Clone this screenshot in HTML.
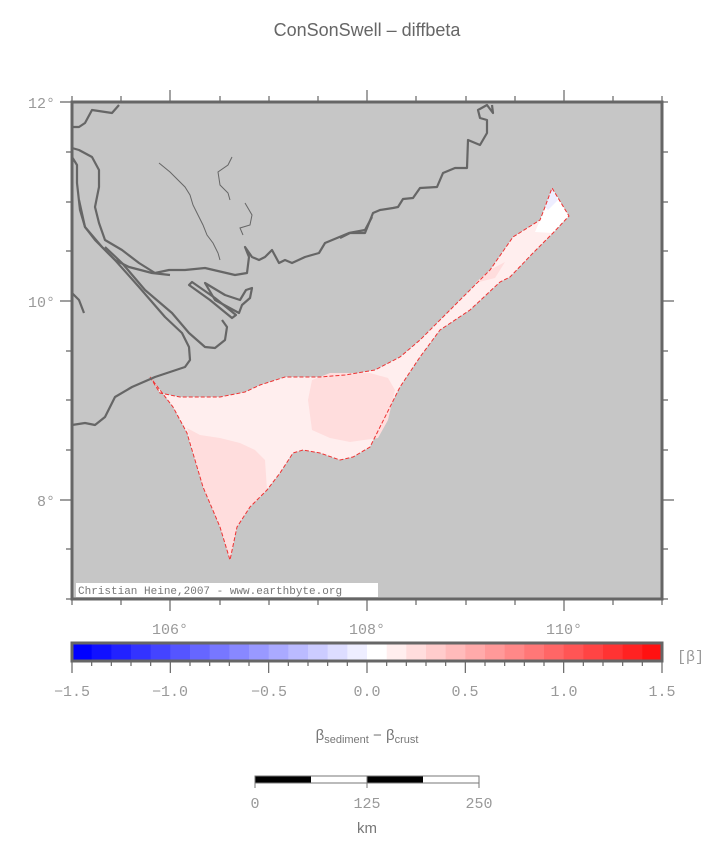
<!DOCTYPE html>
<html><head><meta charset="utf-8"><style>
body{margin:0;background:#fff;}
svg{display:block;}
text{font-family:"Liberation Mono",monospace;fill:#999;}
</style></head><body>
<svg width="720" height="853" viewBox="0 0 720 853" xmlns="http://www.w3.org/2000/svg">
<text x="367" y="36" text-anchor="middle" style="font-family:'Liberation Sans',sans-serif;font-size:18px;fill:#666">ConSonSwell – diffbeta</text>
<rect x="72" y="102" width="590" height="497" fill="#c6c6c6"/>
<path d="M150,377 L160,393 L180,397 L220,397 L245,392 L260,385 L285,377 L320,377 L345,375 L375,370 L400,357 L420,340 L440,320 L458,302 L475,285 L490,270 L513,237 L540,220 L545,207 L552,188 L569,216 L553,233 L533,253 L510,277 L500,282 L470,310 L440,330 L420,357 L400,387 L380,427 L370,447 L353,457 L340,460 L320,453 L303,450 L293,453 L280,473 L267,490 L250,507 L237,527 L230,560 L220,527 L203,487 L187,433 L173,407 Z" fill="#ffeeee"/>
<path d="M312,380 L330,373 L370,373 L388,378 L395,390 L388,420 L378,438 L350,442 L330,438 L312,430 L308,400 Z" fill="#ffdddd"/>
<path d="M187,428 L200,435 L220,438 L240,443 L255,450 L265,460 L267,490 L250,507 L237,527 L230,560 L220,527 L203,487 Z" fill="#ffdddd"/>
<path d="M475,283 L490,270 L505,262 L495,278 Z" fill="#ffdddd"/>
<path d="M540,220 L545,207 L552,188 L569,216 L553,233 L535,232 Z" fill="#ffffff"/>
<path d="M545,207 L552,188 L558,200 L548,210 Z" fill="#eeeeff"/>
<path d="M150,377 L160,393 L180,397 L220,397 L245,392 L260,385 L285,377 L320,377 L345,375 L375,370 L400,357 L420,340 L440,320 L458,302 L475,285 L490,270 L513,237 L540,220 L545,207 L552,188 L569,216 L553,233 L533,253 L510,277 L500,282 L470,310 L440,330 L420,357 L400,387 L380,427 L370,447 L353,457 L340,460 L320,453 L303,450 L293,453 L280,473 L267,490 L250,507 L237,527 L230,560 L220,527 L203,487 L187,433 L173,407 Z" fill="none" stroke="#ee3333" stroke-width="1" stroke-dasharray="4,2"/>
<g fill="none" stroke="#666" stroke-width="2.2" stroke-linejoin="round">
<path d="M372,217 L365,230 L349,233 L325,243 L319,253 L305,257 L292,263 L285,260 L279,263 L272,250 L265,257 L259,260 L252,257 L245,247 L249,257 L247,273 L235,275 L205,268 L185,270 L169,270 L155,273 L139,263 L122,250 L105,240 L99,223 L95,207 L99,187 L99,170 L92,157 L79,150 L72,148"/>
<path d="M72,157 L77,165 L77,183 L80,210 L85,227 L95,240 L105,250 L115,260 L129,267 L152,273 L170,275"/>
<path d="M79,200 L85,227 L102,247 L115,260 L139,287 L165,317 L182,333 L189,347 L190,360 L185,367 L155,377 L132,387 L115,397 L105,417 L95,425 L85,423 L72,425"/>
<path d="M105,247 L122,263 L145,290 L172,313 L189,333 L205,347 L215,348 L225,340 L227,327 L222,320"/>
<path d="M189,285 L210,300 L232,318 L236,315 L215,298 L192,282 Z"/>
<path d="M205,283 L215,300 L239,313 L242,305 L250,298 L252,288 L246,290 L240,300 L225,295 Z"/>
<path d="M72,127 L79,127 L85,123 L92,110 L112,113 L119,105"/>
<path d="M72,293 L79,300 L84,313"/>
<path d="M340,238 L350,233 L365,233 L373,213 L380,210 L393,208 L398,207 L403,199 L413,198 L420,188 L437,187 L443,173 L455,168 L467,168 L468,140 L480,145 L487,133 L487,120 L480,118 L478,110 L487,105 L493,113 L492,105"/>
</g>
<g fill="none" stroke="#666" stroke-width="1">
<path d="M159,163 L170,172 L178,180 L185,187 L190,195 L193,205 L198,215 L203,225 L207,235 L213,243 L218,253 L220,260"/>
<path d="M232,157 L228,165 L218,172 L220,185 L228,193 L230,200"/>
<path d="M245,203 L252,215 L250,225 L240,228 L243,235"/>
</g>
<rect x="72" y="102" width="590" height="497" fill="none" stroke="#666" stroke-width="3"/>
<rect x="76" y="583" width="302" height="14" fill="#fff"/>
<text x="78" y="594" style="font-size:11px;fill:#777">Christian Heine,2007 - www.earthbyte.org</text>
<g stroke="#666" stroke-width="1.2">
<path d="M72,102V96 M121,102V96 M170,102V90 M220,102V96 M269,102V96 M318,102V96 M367,102V90 M416,102V96 M466,102V96 M515,102V96 M564,102V90 M613,102V96 M662,102V96"/>
<path d="M72,599V605 M121,599V605 M170,599V611 M220,599V605 M269,599V605 M318,599V605 M367,599V611 M416,599V605 M466,599V605 M515,599V605 M564,599V611 M613,599V605 M662,599V605"/>
<path d="M72,102H60 M72,152H66 M72,202H66 M72,251H66 M72,301H60 M72,351H66 M72,400H66 M72,450H66 M72,500H60 M72,549H66 M72,599H66"/>
<path d="M662,102H668 M662,152H668 M662,202H668 M662,251H668 M662,301H674 M662,351H668 M662,400H668 M662,450H668 M662,500H674 M662,549H668 M662,599H668"/>
</g>
<g style="font-size:15px">
<text x="55" y="108" text-anchor="end">12°</text>
<text x="55" y="307" text-anchor="end">10°</text>
<text x="55" y="506" text-anchor="end">8°</text>
<text x="170" y="634" text-anchor="middle">106°</text>
<text x="367" y="634" text-anchor="middle">108°</text>
<text x="564" y="634" text-anchor="middle">110°</text>
</g>
<g>
<rect x="72" y="643" width="20" height="18" fill="rgb(0,0,255)"/>
<rect x="91.67" y="643" width="20" height="18" fill="rgb(17,17,255)"/>
<rect x="111.33" y="643" width="20" height="18" fill="rgb(34,34,255)"/>
<rect x="131" y="643" width="20" height="18" fill="rgb(51,51,255)"/>
<rect x="150.67" y="643" width="20" height="18" fill="rgb(68,68,255)"/>
<rect x="170.33" y="643" width="20" height="18" fill="rgb(85,85,255)"/>
<rect x="190" y="643" width="20" height="18" fill="rgb(102,102,255)"/>
<rect x="209.67" y="643" width="20" height="18" fill="rgb(119,119,255)"/>
<rect x="229.33" y="643" width="20" height="18" fill="rgb(136,136,255)"/>
<rect x="249" y="643" width="20" height="18" fill="rgb(153,153,255)"/>
<rect x="268.67" y="643" width="20" height="18" fill="rgb(170,170,255)"/>
<rect x="288.33" y="643" width="20" height="18" fill="rgb(187,187,255)"/>
<rect x="308" y="643" width="20" height="18" fill="rgb(204,204,255)"/>
<rect x="327.67" y="643" width="20" height="18" fill="rgb(221,221,255)"/>
<rect x="347.33" y="643" width="20" height="18" fill="rgb(238,238,255)"/>
<rect x="367" y="643" width="20" height="18" fill="rgb(255,255,255)"/>
<rect x="386.67" y="643" width="20" height="18" fill="rgb(255,238,238)"/>
<rect x="406.33" y="643" width="20" height="18" fill="rgb(255,221,221)"/>
<rect x="426" y="643" width="20" height="18" fill="rgb(255,204,204)"/>
<rect x="445.67" y="643" width="20" height="18" fill="rgb(255,187,187)"/>
<rect x="465.33" y="643" width="20" height="18" fill="rgb(255,170,170)"/>
<rect x="485" y="643" width="20" height="18" fill="rgb(255,153,153)"/>
<rect x="504.67" y="643" width="20" height="18" fill="rgb(255,136,136)"/>
<rect x="524.33" y="643" width="20" height="18" fill="rgb(255,119,119)"/>
<rect x="544" y="643" width="20" height="18" fill="rgb(255,102,102)"/>
<rect x="563.67" y="643" width="20" height="18" fill="rgb(255,85,85)"/>
<rect x="583.33" y="643" width="20" height="18" fill="rgb(255,68,68)"/>
<rect x="603" y="643" width="20" height="18" fill="rgb(255,51,51)"/>
<rect x="622.67" y="643" width="20" height="18" fill="rgb(255,34,34)"/>
<rect x="642.33" y="643" width="19.67" height="18" fill="rgb(255,17,17)"/>
</g>
<rect x="72" y="643" width="590" height="18" fill="none" stroke="#666" stroke-width="3"/>
<g stroke="#666" stroke-width="1.2">
<path d="M72,661V673 M91.67,661V666 M111.33,661V666 M131,661V666 M150.67,661V666 M170.33,661V673 M190,661V666 M209.67,661V666 M229.33,661V666 M249,661V666 M268.67,661V673 M288.33,661V666 M308,661V666 M327.67,661V666 M347.33,661V666 M367,661V673 M386.67,661V666 M406.33,661V666 M426,661V666 M445.67,661V666 M465.33,661V673 M485,661V666 M504.67,661V666 M524.33,661V666 M544,661V666 M563.67,661V673 M583.33,661V666 M603,661V666 M622.67,661V666 M642.33,661V666 M662,661V673"/>
</g>
<g style="font-size:15px" text-anchor="middle">
<text x="72" y="696">−1.5</text>
<text x="170" y="696">−1.0</text>
<text x="269" y="696">−0.5</text>
<text x="367" y="696">0.0</text>
<text x="465" y="696">0.5</text>
<text x="564" y="696">1.0</text>
<text x="662" y="696">1.5</text>
</g>
<text x="677" y="661" style="font-size:15px">[β]</text>
<text x="367" y="740" text-anchor="middle" style="font-family:'Liberation Sans',sans-serif;font-size:15px;fill:#777">β<tspan dy="3" style="font-size:11px">sediment</tspan><tspan dy="-3"> − β</tspan><tspan dy="3" style="font-size:11px">crust</tspan></text>
<rect x="255" y="776" width="56" height="7" fill="#000"/>
<rect x="311" y="776" width="56" height="7" fill="#fff"/>
<rect x="367" y="776" width="56" height="7" fill="#000"/>
<rect x="423" y="776" width="56" height="7" fill="#fff"/>
<rect x="255" y="776" width="224" height="7" fill="none" stroke="#777" stroke-width="1"/>
<path d="M255,776V788 M367,776V788 M479,776V788" stroke="#777" stroke-width="1"/>
<g style="font-size:15px" text-anchor="middle">
<text x="255" y="808">0</text>
<text x="367" y="808">125</text>
<text x="479" y="808">250</text>
</g>
<text x="367" y="833" text-anchor="middle" style="font-family:'Liberation Sans',sans-serif;font-size:15px;fill:#777">km</text>
</svg>
</body></html>
